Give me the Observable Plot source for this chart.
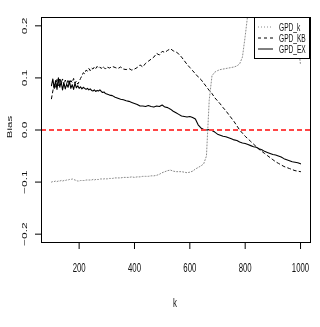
<!DOCTYPE html>
<html>
<head>
<meta charset="utf-8">
<script src="https://cdn.jsdelivr.net/npm/d3@7"></script>
<script src="https://cdn.jsdelivr.net/npm/@observablehq/plot@0.6"></script>
<style>
  html, body { margin: 0; padding: 0; background: white; }
  #chart { width: 320px; height: 327px; }
  #chart svg { will-change: transform; }
</style>
</head>
<body>
<div id="chart"></div>
<script>
// ---- data ----
const k = [100,105,110,115,120,125,130,135,140,145,150,155,160,165,170,175,180,185,190,195,
  200,205,210,215,220,225,230,235,240,245,250,255,260,265,270,275,280,285,290,295,300,
  310,320,330,340,350,360,370,380,390,400,410,420,430,440,450,460,470,480,490,500,
  510,520,530,540,550,560,570,580,590,600,610,620,630,640,650,660,670,680,690,700,
  710,720,730,740,750,760,770,780,790,800,810,820,830,840,850,860,870,880,890,900,
  910,920,930,940,950,960,970,980,990,1000];

const gpdK = [-0.100,-0.099,-0.099,-0.098,-0.099,-0.098,-0.098,-0.097,-0.098,-0.097,-0.097,-0.096,-0.096,-0.095,-0.095,-0.094,-0.095,-0.096,-0.097,-0.098,
  -0.098,-0.097,-0.097,-0.097,-0.097,-0.096,-0.096,-0.096,-0.096,-0.096,-0.095,-0.096,-0.095,-0.095,-0.095,-0.094,-0.094,-0.094,-0.094,-0.093,-0.094,
  -0.093,-0.093,-0.092,-0.092,-0.092,-0.091,-0.091,-0.091,-0.090,-0.091,-0.090,-0.090,-0.089,-0.089,-0.089,-0.088,-0.088,-0.087,-0.085,-0.082,
  -0.080,-0.078,-0.077,-0.079,-0.080,-0.080,-0.080,-0.081,-0.082,-0.081,-0.079,-0.075,-0.072,-0.069,-0.065,-0.050,0.057,0.104,0.111,0.114,
  0.116,0.117,0.118,0.119,0.120,0.121,0.123,0.127,0.140,0.180,0.225,0.260,0.290,0.310,0.330,0.340,0.345,0.350,0.345,0.340,
  0.330,0.320,0.310,0.300,0.290,0.280,0.265,0.240,0.170,0.125];

const gpdKB = [0.060,0.075,0.088,0.082,0.097,0.085,0.100,0.090,0.098,0.086,0.096,0.089,0.097,0.088,0.095,0.091,0.099,0.090,0.094,0.088,
  0.093,0.099,0.104,0.110,0.108,0.115,0.113,0.118,0.114,0.119,0.117,0.121,0.118,0.122,0.119,0.121,0.118,0.122,0.120,0.117,0.121,
  0.119,0.122,0.120,0.118,0.121,0.117,0.116,0.118,0.115,0.117,0.120,0.125,0.121,0.128,0.132,0.136,0.140,0.147,0.144,0.151,
  0.149,0.153,0.156,0.152,0.150,0.146,0.140,0.133,0.126,0.120,0.114,0.108,0.102,0.097,0.090,0.083,0.076,0.070,0.062,0.056,
  0.050,0.043,0.037,0.030,0.023,0.016,0.008,0.000,-0.006,-0.012,-0.017,-0.022,-0.027,-0.032,-0.037,-0.041,-0.045,-0.049,-0.053,-0.057,
  -0.061,-0.064,-0.067,-0.070,-0.072,-0.074,-0.076,-0.078,-0.079,-0.080];

const gpdEX = [0.085,0.098,0.080,0.095,0.078,0.100,0.082,0.093,0.077,0.090,0.079,0.088,0.082,0.094,0.080,0.087,0.078,0.090,0.081,0.085,
  0.080,0.083,0.079,0.082,0.080,0.078,0.080,0.077,0.079,0.076,0.075,0.077,0.074,0.076,0.075,0.077,0.074,0.072,0.073,0.070,0.069,
  0.067,0.066,0.063,0.061,0.059,0.058,0.056,0.055,0.053,0.051,0.049,0.046,0.046,0.045,0.047,0.045,0.044,0.046,0.045,0.048,
  0.044,0.043,0.040,0.036,0.033,0.030,0.027,0.026,0.025,0.026,0.024,0.021,0.010,0.004,0.001,0.000,0.001,-0.001,-0.004,-0.008,
  -0.010,-0.012,-0.013,-0.015,-0.017,-0.019,-0.020,-0.023,-0.025,-0.026,-0.028,-0.030,-0.032,-0.033,-0.036,-0.038,-0.041,-0.043,-0.045,-0.047,
  -0.048,-0.050,-0.052,-0.055,-0.057,-0.059,-0.061,-0.062,-0.063,-0.065];

const seriesNames = ["GPD_k", "GPD_KB", "GPD_EX"];
const xTicks = [200, 400, 600, 800, 1000];
const xTickLabels = ["200", "400", "600", "800", "1000"];
const yTicks = [-0.2, -0.1, 0, 0.1, 0.2];
const yTickLabels = ["\u22120.2", "\u22120.1", "0.0", "0.1", "0.2"];
const xLabel = "k";
const yLabel = "Bias";

// ---- build tables ----
const rowsK  = k.map((kk, i) => ({k: kk, v: gpdK[i]}));
const rowsKB = k.map((kk, i) => ({k: kk, v: gpdKB[i]}));
const rowsEX = k.map((kk, i) => ({k: kk, v: gpdEX[i]}));

const FONT = "'Liberation Sans', Arial, Helvetica, sans-serif";
const SX = 0.65; // horizontal squeeze of the reference text

const plot = Plot.plot({
  width: 320,
  height: 327,
  marginLeft: 41,
  marginRight: 10,
  marginTop: 17,
  marginBottom: 85,
  x: {domain: [64, 1036]},
  y: {domain: [-0.216, 0.216]},
  style: {fontFamily: FONT, fontSize: "12px", background: "white", color: "black"},
  marks: [
    Plot.line(rowsK,  {x: "k", y: "v", stroke: "#8a8a8a", strokeWidth: 1, strokeDasharray: "1,2", clip: true}),
    Plot.line(rowsKB, {x: "k", y: "v", stroke: "black", strokeWidth: 1, strokeDasharray: "3,3", clip: true}),
    Plot.line(rowsEX, {x: "k", y: "v", stroke: "black", strokeWidth: 1.1, clip: true}),
    Plot.ruleY([0], {stroke: "#ff4545", strokeWidth: 2, strokeDasharray: "5,3"}),
    Plot.frame({stroke: "black", strokeWidth: 1}),
    Plot.axisX(xTicks, {tickSize: 7, tickPadding: 14, label: null, fontSize: 12, fill: "#111",
      tickFormat: d => xTickLabels[xTicks.indexOf(d)]}),
    Plot.axisY(yTicks, {tickSize: 6, tickFormat: () => "", label: null}),
    Plot.text(yTicks, {y: d => d, frameAnchor: "left", dx: -17.5, rotate: -90, fill: "#111",
      text: (d, i) => yTickLabels[i], textAnchor: "middle", lineAnchor: "middle", fontSize: 12})
  ]
});

document.getElementById("chart").appendChild(plot);

const svg = d3.select(plot);
// squeeze text horizontally like the reference
svg.selectAll("text").each(function() {
  const t = this.getAttribute("transform") || "";
  if (t.includes("rotate(-90)")) this.setAttribute("transform", t + ` scale(1,${SX})`);
  else if (t.includes("translate")) this.setAttribute("transform", t + ` scale(${SX},1)`);
});

// axis titles
svg.append("text")
  .attr("transform", `translate(175,306.5) scale(${SX},1)`)
  .attr("text-anchor", "middle")
  .attr("font-family", FONT).attr("font-size", 12).attr("fill", "#111")
  .text(xLabel);
svg.append("text")
  .attr("transform", `translate(12,127) rotate(-90) scale(1,${SX})`)
  .attr("text-anchor", "middle")
  .attr("font-family", FONT).attr("font-size", 11.5).attr("fill", "#111")
  .text(yLabel);

// legend (top right, white box)
const lg = svg.append("g");
lg.append("rect").attr("x", 254.5).attr("y", 17.5).attr("width", 55).attr("height", 41)
  .attr("fill", "white").attr("stroke", "black").attr("stroke-width", 1);
const styles = [
  {stroke: "#8a8a8a", dash: "1,2"},
  {stroke: "black", dash: "3,3"},
  {stroke: "black", dash: null}
];
const rowY = [27, 38, 49];
seriesNames.forEach((name, i) => {
  const ln = lg.append("line").attr("x1", 258).attr("x2", 273)
    .attr("y1", rowY[i]).attr("y2", rowY[i])
    .attr("stroke", styles[i].stroke).attr("stroke-width", 1);
  if (styles[i].dash) ln.attr("stroke-dasharray", styles[i].dash);
  lg.append("text")
    .attr("transform", `translate(279,${rowY[i]}) scale(0.6,1)`)
    .attr("text-anchor", "start")
    .attr("dy", "0.35em")
    .attr("font-family", FONT).attr("font-size", 11).attr("fill", "#111")
    .text(name);
});
</script>
</body>
</html>
